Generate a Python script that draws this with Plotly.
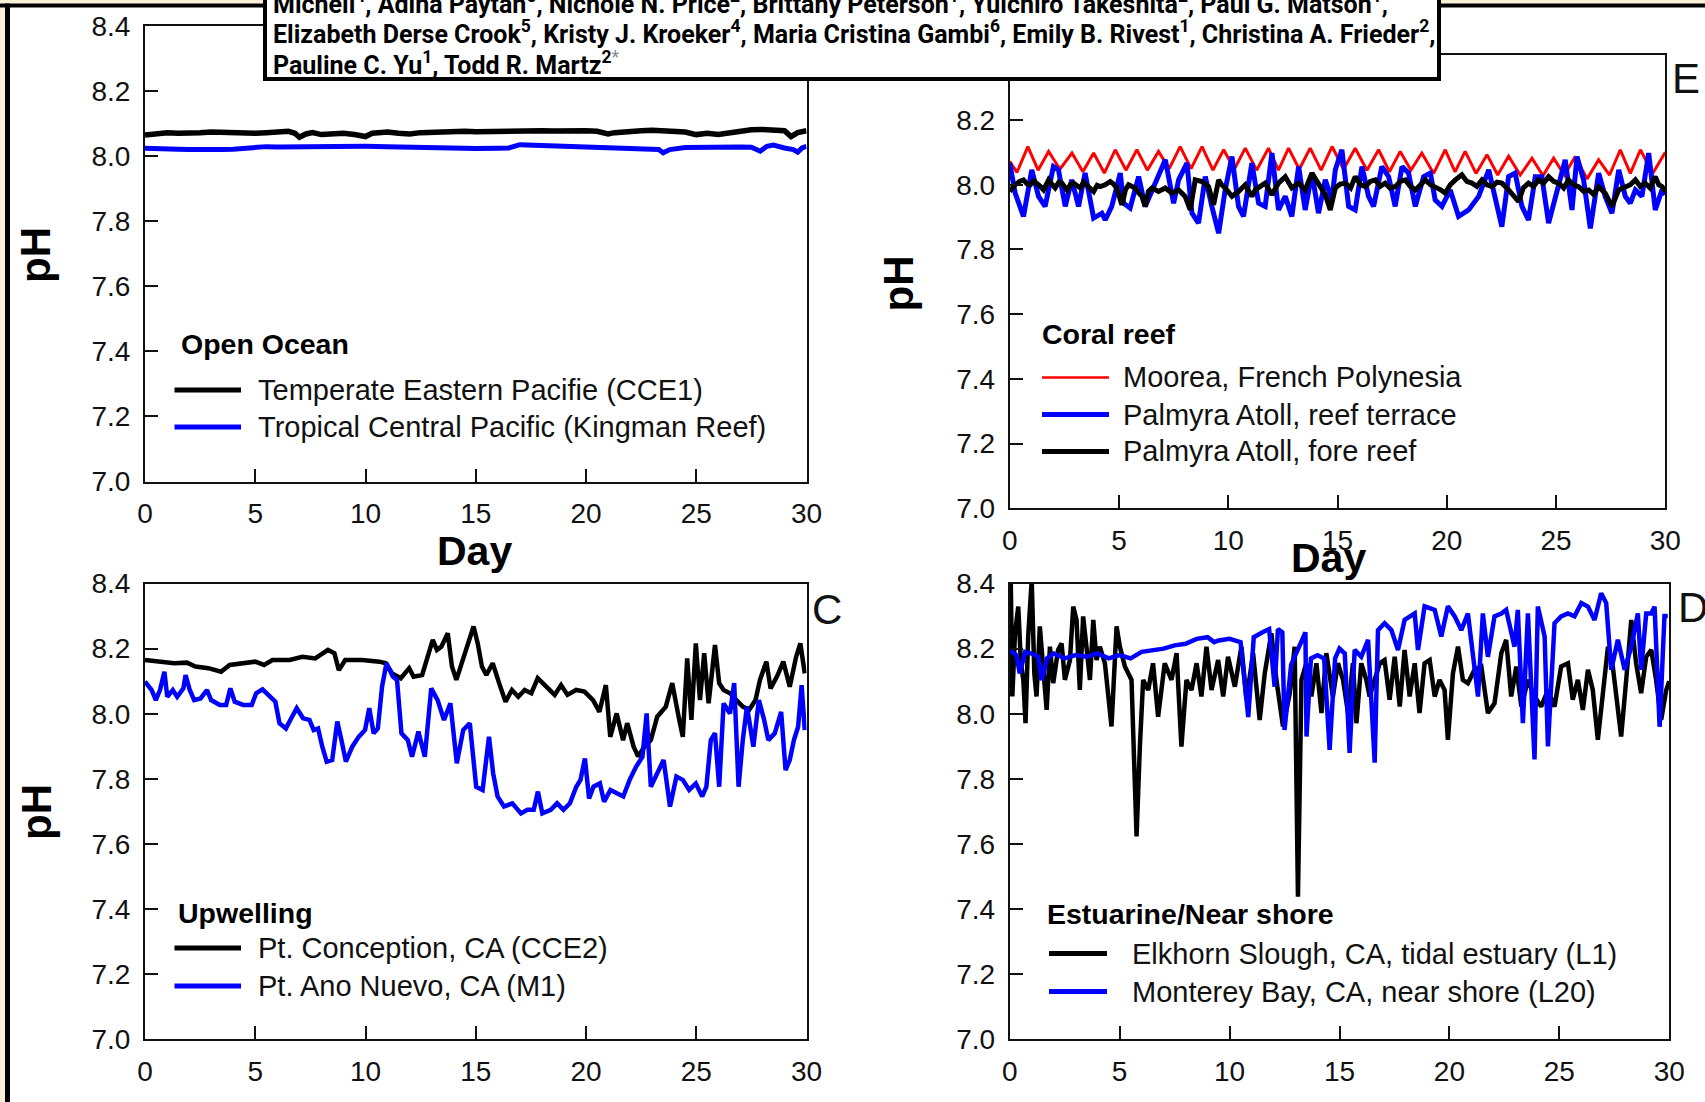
import plotly.graph_objects as go

W, H = 1705, 1102
FONT = "Liberation Sans, Arial, sans-serif"
BANNER_FONT = "Roboto, Liberation Sans, sans-serif"


def fx(p):
    return p / W


def fy(p):
    return 1 - p / H


# ---------------- DATA ----------------
# Panel A: Open Ocean
a_cce1_day = [0, 0.5, 1, 1.5, 2, 2.5, 3, 3.5, 4, 4.5, 5, 5.5, 6, 6.5, 6.8, 7.0, 7.3, 7.6, 8.0, 8.5, 9, 9.5, 10, 10.3,
              11, 11.5, 12, 12.5, 13, 13.5, 14, 14.5, 15, 15.5, 16, 16.5, 17, 17.5, 18, 18.5, 19, 19.5, 20, 20.5, 21,
              21.3, 21.7, 22, 22.5, 23, 23.5, 24, 24.5, 25, 25.5, 26, 26.5, 27, 27.5, 28, 28.5, 29, 29.3, 29.6, 30]
a_cce1_ph = [8.065, 8.070, 8.072, 8.070, 8.073, 8.072, 8.074, 8.073, 8.070, 8.068, 8.070, 8.072, 8.074, 8.076, 8.070,
             8.058, 8.068, 8.072, 8.066, 8.068, 8.070, 8.066, 8.060, 8.070, 8.074, 8.070, 8.068, 8.072, 8.074, 8.075,
             8.074, 8.076, 8.075, 8.076, 8.077, 8.078, 8.077, 8.076, 8.078, 8.077, 8.078, 8.077, 8.078, 8.076, 8.068,
             8.072, 8.075, 8.077, 8.078, 8.079, 8.078, 8.079, 8.074, 8.066, 8.070, 8.066, 8.072, 8.078, 8.081, 8.082,
             8.082, 8.078, 8.060, 8.072, 8.078]
a_king_day = [0, 0.5, 1, 1.5, 2, 2.5, 3, 3.5, 4, 4.5, 5, 5.5, 6, 7, 8, 9, 10, 11, 12, 13, 14, 15, 16, 16.5, 17, 17.5,
              18, 19, 20, 21, 22, 23, 23.3, 23.5, 23.8, 24.5, 25, 26, 27, 27.5, 27.9, 28.2, 28.5, 29, 29.4, 29.6, 29.8,
              30]
a_king_ph = [8.024, 8.022, 8.020, 8.021, 8.020, 8.019, 8.020, 8.020, 8.021, 8.024, 8.027, 8.029, 8.028, 8.029, 8.030,
             8.031, 8.030, 8.029, 8.027, 8.024, 8.022, 8.023, 8.024, 8.025, 8.035, 8.034, 8.030, 8.031, 8.029, 8.026,
             8.024, 8.023, 8.020, 8.010, 8.020, 8.026, 8.027, 8.029, 8.028, 8.027, 8.015, 8.030, 8.034, 8.025, 8.020,
             8.012, 8.025, 8.030]

# Panel E: Coral reef
e_moorea_day = [0, 0.33, 0.83, 1.30, 1.78, 2.30, 2.85, 3.35, 3.84, 4.33, 4.83, 5.32, 5.82, 6.30, 6.81, 7.30, 7.80,
                8.30, 8.80, 9.30, 9.79, 10.28, 10.78, 11.30, 11.84, 12.30, 12.76, 13.25, 13.75, 14.25, 14.75, 15.28,
                15.81, 16.35, 16.88, 17.38, 17.87, 18.36, 18.86, 19.40, 19.93, 20.38, 20.84, 21.34, 21.84, 22.33,
                22.83, 23.36, 23.90, 24.40, 24.89, 25.38, 25.88, 26.42, 26.95, 27.45, 27.94, 28.40, 28.86, 29.42, 30.0]
e_moorea_ph = [8.072, 8.038, 8.118, 8.045, 8.103, 8.048, 8.098, 8.040, 8.098, 8.036, 8.108, 8.045, 8.108, 8.045,
               8.103, 8.050, 8.118, 8.050, 8.118, 8.045, 8.108, 8.048, 8.113, 8.045, 8.113, 8.045, 8.113, 8.048,
               8.113, 8.045, 8.118, 8.048, 8.113, 8.045, 8.108, 8.040, 8.103, 8.045, 8.098, 8.035, 8.108, 8.040,
               8.103, 8.035, 8.093, 8.030, 8.088, 8.030, 8.082, 8.028, 8.082, 8.030, 8.087, 8.018, 8.077, 8.030,
               8.108, 8.035, 8.108, 8.035, 8.100]
e_terrace_day = [0.0, 0.25, 0.63, 1.01, 1.32, 1.62, 2.0, 2.23, 2.54, 2.84, 3.15, 3.45, 3.84, 4.22, 4.37, 4.67, 5.06,
                 5.21, 5.51, 5.9, 6.2, 6.51, 7.12, 7.5, 7.73, 8.11, 8.34, 8.64, 8.95, 9.25, 9.56, 9.86, 10.17, 10.47,
                 10.7, 11.08, 11.39, 11.69, 12.0, 12.3, 12.61, 12.91, 13.22, 13.52, 13.83, 14.13, 14.44, 14.74, 14.9,
                 15.2, 15.51, 15.81, 16.12, 16.42, 16.65, 17.03, 17.34, 17.64, 17.95, 18.25, 18.56, 18.94, 19.25,
                 19.47, 19.78, 20.16, 20.54, 21.0, 21.46, 21.92, 22.22, 22.52, 22.83, 23.13, 23.44, 23.74, 24.05,
                 24.35, 24.66, 24.97, 25.42, 25.73, 25.96, 26.26, 26.57, 26.95, 27.25, 27.56, 27.87, 28.17, 28.4,
                 28.63, 28.93, 29.24, 29.54, 29.85, 30.0]
e_terrace_ph = [8.067, 7.974, 7.902, 8.046, 7.964, 7.933, 8.056, 8.046, 7.933, 8.015, 7.933, 8.036, 7.897, 7.912,
                7.891, 7.933, 8.036, 7.943, 7.928, 8.025, 7.933, 7.984, 8.077, 7.943, 8.015, 8.067, 7.912, 7.881,
                8.025, 7.933, 7.850, 7.984, 8.087, 7.933, 7.902, 8.067, 7.943, 7.933, 8.098, 7.922, 7.964, 7.902,
                8.056, 7.922, 8.036, 7.912, 8.015, 7.953, 8.046, 8.108, 7.933, 7.922, 8.056, 7.964, 7.933, 8.056,
                8.025, 7.933, 8.056, 8.036, 7.933, 8.025, 8.036, 7.953, 7.933, 7.984, 7.902, 7.922, 7.964, 8.046,
                7.964, 7.870, 8.025, 8.036, 7.933, 7.891, 8.025, 8.025, 7.881, 7.964, 8.077, 7.922, 8.087, 8.015,
                7.865, 8.036, 7.964, 7.912, 8.046, 7.964, 7.943, 7.984, 7.964, 8.098, 7.922, 7.984, 7.970]
e_fore_day = [0.0, 0.12, 0.25, 0.45, 0.63, 0.8, 0.94, 1.1, 1.24, 1.4, 1.55, 1.78, 1.95, 2.08, 2.25, 2.39, 2.62, 2.78,
              2.92, 3.08, 3.23, 3.38, 3.53, 3.7, 3.84, 4.0, 4.14, 4.37, 4.6, 4.75, 4.9, 5.13, 5.3, 5.44, 5.74, 5.9,
              6.05, 6.2, 6.35, 6.51, 6.81, 7.12, 7.42, 7.73, 8.03, 8.26, 8.49, 8.8, 9.1, 9.33, 9.56, 9.7, 9.86,
              10.17, 10.47, 10.78, 11.08, 11.25, 11.39, 11.69, 12.0, 12.3, 12.61, 12.91, 13.22, 13.52, 13.83, 14.13,
              14.44, 14.67, 14.9, 15.12, 15.36, 15.6, 15.81, 16.05, 16.27, 16.5, 16.73, 16.95, 17.18, 17.4, 17.64,
              17.87, 18.1, 18.33, 18.56, 18.8, 19.02, 19.25, 19.47, 19.7, 19.93, 20.16, 20.39, 20.69, 20.92, 21.15,
              21.38, 21.61, 21.84, 22.07, 22.3, 22.52, 22.75, 22.98, 23.29, 23.5, 23.74, 23.97, 24.2, 24.43, 24.66,
              24.9, 25.12, 25.35, 25.57, 25.8, 26.03, 26.26, 26.49, 26.72, 26.95, 27.25, 27.56, 27.87, 28.17, 28.4,
              28.63, 28.85, 29.08, 29.3, 29.54, 29.7, 29.85, 30.0]
e_fore_ph = [7.979, 7.992, 8.000, 8.010, 8.015, 8.002, 8.000, 8.012, 8.005, 7.995, 7.984, 8.015, 8.000, 7.990, 8.008,
             8.005, 7.984, 8.000, 8.005, 7.995, 7.990, 8.008, 8.000, 7.990, 7.979, 7.998, 7.994, 8.000, 8.010, 8.002,
             7.990, 7.938, 7.985, 8.000, 7.990, 7.975, 7.964, 7.933, 7.980, 7.990, 7.979, 7.990, 7.974, 7.984, 7.964,
             7.922, 8.015, 8.010, 7.994, 7.938, 8.015, 8.000, 7.990, 7.964, 7.979, 8.000, 7.964, 7.985, 7.990, 8.005,
             7.969, 8.005, 8.025, 7.990, 8.005, 7.984, 8.036, 8.000, 7.969, 7.922, 7.990, 8.002, 8.005, 7.990, 8.025,
             8.000, 7.994, 8.010, 8.015, 7.995, 8.005, 7.990, 7.994, 8.010, 8.015, 7.995, 7.984, 8.000, 8.015, 8.000,
             7.994, 7.985, 7.974, 8.000, 8.015, 8.031, 8.010, 8.005, 7.995, 8.015, 8.000, 7.994, 8.008, 8.005, 7.990,
             7.974, 7.948, 7.990, 8.005, 7.995, 8.015, 8.005, 8.025, 8.010, 8.005, 7.990, 8.015, 8.000, 7.994, 7.980,
             7.984, 7.970, 7.994, 7.974, 7.933, 7.984, 7.994, 8.000, 8.015, 7.995, 8.005, 7.990, 8.025, 8.000, 7.994,
             7.979]

# Panel C: Upwelling
c_cce2_day = [0.0, 0.55, 1.32, 1.9, 2.29, 2.87, 3.45, 3.84, 4.42, 5.0, 5.4, 5.78, 6.56, 7.14, 7.72, 8.3, 8.59, 8.79,
              9.08, 9.85, 10.63, 10.92, 11.21, 11.6, 11.98, 12.18, 12.57, 12.76, 13.05, 13.24, 13.44, 13.73, 13.92,
              14.12, 14.41, 14.7, 14.9, 15.09, 15.28, 15.48, 15.77, 16.06, 16.35, 16.64, 16.93, 17.22, 17.52, 17.81,
              18.19, 18.58, 18.87, 19.16, 19.55, 19.93, 20.32, 20.61, 20.9, 21.1, 21.39, 21.68, 21.87, 22.16, 22.36,
              22.65, 22.94, 23.23, 23.62, 23.91, 24.2, 24.39, 24.59, 24.78, 24.98, 25.17, 25.36, 25.56, 25.85, 26.04,
              26.24, 26.53, 26.82, 27.11, 27.4, 27.69, 27.89, 28.18, 28.37, 28.66, 28.95, 29.24, 29.53, 29.72, 29.92]
c_cce2_ph = [8.165, 8.160, 8.155, 8.157, 8.145, 8.140, 8.129, 8.150, 8.155, 8.160, 8.150, 8.165, 8.165, 8.175, 8.170,
             8.196, 8.186, 8.134, 8.165, 8.165, 8.160, 8.155, 8.124, 8.109, 8.140, 8.114, 8.119, 8.165, 8.227, 8.196,
             8.206, 8.247, 8.145, 8.104, 8.165, 8.237, 8.268, 8.216, 8.145, 8.119, 8.155, 8.094, 8.037, 8.073, 8.052,
             8.073, 8.063, 8.109, 8.083, 8.058, 8.088, 8.058, 8.073, 8.068, 8.042, 8.006, 8.088, 7.929, 8.001, 7.919,
             7.971, 7.899, 7.869, 7.899, 7.919, 7.991, 8.022, 8.094, 7.991, 7.929, 8.170, 7.981, 8.216, 8.042, 8.186,
             8.032, 8.211, 8.094, 8.073, 8.063, 8.042, 8.022, 8.012, 8.042, 8.104, 8.160, 8.078, 8.114, 8.160, 8.083,
             8.175, 8.216, 8.124]
c_m1_day = [0.0, 0.3, 0.49, 0.68, 0.88, 1.01, 1.26, 1.46, 1.74, 1.84, 2.03, 2.23, 2.52, 2.81, 3.0, 3.39, 3.68, 3.87,
            4.07, 4.45, 4.84, 5.04, 5.33, 5.62, 5.91, 6.1, 6.39, 6.59, 6.88, 7.17, 7.46, 7.65, 7.85, 8.04, 8.24, 8.49,
            8.72, 8.91, 9.11, 9.4, 9.69, 9.98, 10.17, 10.37, 10.56, 10.75, 10.95, 11.24, 11.43, 11.63, 11.92, 12.11,
            12.4, 12.69, 12.98, 13.27, 13.56, 13.85, 14.14, 14.43, 14.73, 15.02, 15.31, 15.6, 15.79, 15.99, 16.28,
            16.66, 17.05, 17.34, 17.63, 17.82, 18.02, 18.4, 18.69, 18.98, 19.27, 19.56, 19.75, 19.95, 20.14, 20.34,
            20.63, 20.82, 21.11, 21.4, 21.69, 21.98, 22.27, 22.56, 22.75, 22.94, 23.23, 23.52, 23.81, 24.1, 24.39,
            24.68, 24.98, 25.27, 25.46, 25.66, 25.85, 26.04, 26.24, 26.53, 26.72, 26.92, 27.11, 27.3, 27.59, 27.84,
            28.08, 28.27, 28.56, 28.85, 29.05, 29.24, 29.43, 29.62, 29.78, 29.92]
c_m1_ph = [8.099, 8.073, 8.042, 8.073, 8.129, 8.052, 8.073, 8.052, 8.078, 8.119, 8.073, 8.042, 8.047, 8.073, 8.042,
           8.027, 8.027, 8.078, 8.037, 8.027, 8.027, 8.063, 8.075, 8.058, 8.037, 7.971, 7.955, 7.981, 8.017, 7.986,
           7.981, 7.950, 7.955, 7.899, 7.853, 7.858, 7.976, 7.919, 7.853, 7.899, 7.929, 7.950, 8.017, 7.940, 7.955,
           8.083, 8.155, 8.114, 8.104, 7.940, 7.919, 7.868, 7.945, 7.868, 8.078, 8.042, 7.981, 8.032, 7.848, 7.950,
           7.971, 7.776, 7.766, 7.929, 7.817, 7.746, 7.715, 7.725, 7.694, 7.705, 7.705, 7.761, 7.694, 7.705, 7.725,
           7.705, 7.725, 7.776, 7.797, 7.863, 7.740, 7.776, 7.786, 7.730, 7.766, 7.756, 7.746, 7.797, 7.837, 7.868,
           8.001, 7.776, 7.817, 7.858, 7.715, 7.807, 7.797, 7.766, 7.786, 7.746, 7.776, 7.919, 7.940, 7.776, 8.032,
           8.001, 8.094, 7.776, 7.919, 8.022, 7.899, 8.042, 7.981, 7.919, 7.940, 8.006, 7.827, 7.858, 7.919, 7.960,
           8.088, 7.950]

# Panel D: Estuarine / Near shore
d_l1_day = [0.0, 0.05, 0.12, 0.24, 0.39, 0.51, 0.62, 0.72, 0.84, 1.0, 1.12, 1.22, 1.37, 1.52, 1.68, 1.83, 1.98, 2.2,
            2.36, 2.51, 2.74, 2.89, 3.04, 3.19, 3.34, 3.49, 3.65, 3.8, 3.95, 4.1, 4.33, 4.63, 4.86, 5.01, 5.24, 5.54,
            5.77, 5.92, 6.07, 6.3, 6.52, 6.75, 7.05, 7.36, 7.59, 7.81, 8.04, 8.27, 8.5, 8.72, 8.95, 9.18, 9.48, 9.71,
            9.93, 10.24, 10.54, 10.77, 11.07, 11.37, 11.6, 11.9, 12.13, 12.43, 12.74, 12.96, 13.11, 13.27, 13.49,
            13.72, 13.95, 14.18, 14.4, 14.7, 14.93, 15.16, 15.39, 15.61, 15.77, 15.99, 16.22, 16.37, 16.6, 16.83,
            17.05, 17.28, 17.51, 17.74, 17.96, 18.19, 18.42, 18.64, 18.87, 19.1, 19.33, 19.55, 19.78, 19.93, 20.16,
            20.39, 20.61, 20.84, 21.14, 21.45, 21.75, 22.05, 22.36, 22.58, 22.81, 23.04, 23.27, 23.57, 23.87, 24.17,
            24.48, 24.78, 25.08, 25.39, 25.61, 25.84, 26.07, 26.3, 26.52, 26.75, 26.98, 27.21, 27.43, 27.66, 27.81,
            28.04, 28.27, 28.49, 28.72, 28.95, 29.18, 29.4, 29.63, 29.86, 30.0]
d_l1_ph = [8.237, 8.400, 8.053, 8.247, 8.329, 8.155, 8.104, 7.971, 8.237, 8.410, 8.124, 8.053, 8.268, 8.155, 8.012,
           8.206, 8.094, 8.196, 8.216, 8.104, 8.165, 8.329, 8.288, 8.073, 8.299, 8.206, 8.104, 8.288, 8.165, 8.206,
           8.155, 7.961, 8.268, 8.206, 8.145, 8.104, 7.623, 7.899, 8.104, 8.073, 8.155, 7.991, 8.155, 8.104, 8.186,
           7.899, 8.104, 8.073, 8.155, 8.053, 8.206, 8.073, 8.165, 8.053, 8.175, 8.083, 8.206, 8.043, 8.186, 7.981,
           8.124, 8.247, 8.104, 7.961, 8.063, 8.206, 7.438, 8.104, 8.155, 8.053, 8.155, 8.002, 8.186, 8.053, 8.155,
           8.104, 8.002, 8.155, 7.971, 8.155, 8.104, 8.053, 8.104, 8.155, 8.165, 8.043, 8.175, 8.022, 8.196, 8.053,
           8.155, 8.002, 8.155, 8.165, 8.053, 8.104, 8.073, 7.920, 8.124, 8.206, 8.104, 8.094, 8.135, 8.145, 8.002,
           8.032, 8.186, 8.227, 8.053, 8.145, 8.022, 8.104, 8.053, 8.022, 8.073, 8.022, 8.145, 8.155, 8.043, 8.104,
           8.012, 8.135, 8.073, 7.920, 8.063, 8.206, 8.145, 8.002, 7.930, 8.104, 8.288, 8.155, 8.063, 8.175, 8.196,
           8.104, 7.981, 8.073, 8.100]
d_l20_day = [0.0, 0.3, 0.46, 0.7, 1.0, 1.3, 1.45, 1.7, 2.0, 2.5, 3.0, 3.5, 4.0, 4.5, 5.0, 5.5, 6.0, 6.5, 7.0, 7.5,
             8.0, 8.5, 9.0, 9.3, 9.5, 10.0, 10.5, 10.85, 11.1, 11.5, 11.8, 12.05, 12.2, 12.4, 12.5, 12.8, 13.0, 13.3,
             13.45, 13.5, 13.7, 14.0, 14.3, 14.55, 14.8, 15.0, 15.24, 15.46, 15.69, 15.99, 16.3, 16.6, 16.75, 17.05,
             17.36, 17.66, 17.96, 18.42, 18.57, 18.87, 19.33, 19.63, 19.93, 20.24, 20.54, 20.84, 21.3, 21.52, 21.75,
             22.05, 22.36, 22.58, 22.96, 23.11, 23.34, 23.57, 23.87, 24.02, 24.33, 24.48, 24.78, 25.08, 25.39, 25.69,
             26.0, 26.3, 26.6, 26.9, 27.13, 27.36, 27.66, 27.97, 28.27, 28.57, 28.72, 28.95, 29.18, 29.33, 29.56,
             29.78, 29.93]
d_l20_ph = [8.196, 8.180, 8.124, 8.190, 8.185, 8.175, 8.103, 8.170, 8.185, 8.170, 8.180, 8.175, 8.185, 8.170, 8.180,
            8.170, 8.190, 8.195, 8.200, 8.210, 8.215, 8.230, 8.235, 8.220, 8.225, 8.230, 8.220, 7.990, 8.235, 8.250,
            8.260, 8.083, 8.260, 8.250, 7.950, 8.150, 8.180, 8.220, 8.250, 7.930, 8.170, 8.180, 8.170, 7.889, 8.170,
            8.200, 8.185, 7.880, 8.196, 8.175, 8.227, 7.850, 8.257, 8.278, 8.257, 8.196, 8.288, 8.308, 8.196, 8.330,
            8.319, 8.237, 8.330, 8.299, 8.257, 8.308, 8.053, 8.308, 8.175, 8.299, 8.308, 8.319, 8.206, 8.319, 7.971,
            8.308, 7.860, 8.329, 8.237, 7.900, 8.278, 8.299, 8.308, 8.299, 8.340, 8.329, 8.288, 8.370, 8.340, 8.135,
            8.227, 8.135, 8.206, 8.308, 8.135, 8.308, 8.308, 8.329, 7.960, 8.300, 8.300]

x_ticks = [0, 5, 10, 15, 20, 25, 30]
y_ticks = [7.0, 7.2, 7.4, 7.6, 7.8, 8.0, 8.2, 8.4]
y_tick_text = ["7.0", "7.2", "7.4", "7.6", "7.8", "8.0", "8.2", "8.4"]

BLUE = "#0000FF"
RED = "#FF0000"
BLACK = "#000000"

# ---------------- FIGURE ----------------
fig = go.Figure()


def add_line(x, y, xa, ya, color, width):
    fig.add_trace(go.Scatter(x=x, y=y, xaxis=xa, yaxis=ya, mode="lines",
                             line=dict(color=color, width=width),
                             showlegend=False, hoverinfo="skip"))


add_line(a_cce1_day, a_cce1_ph, "x", "y", BLACK, 5.5)
add_line(a_king_day, a_king_ph, "x", "y", BLUE, 5)
add_line(e_moorea_day, e_moorea_ph, "x2", "y2", RED, 3)
add_line(e_terrace_day, e_terrace_ph, "x2", "y2", BLUE, 5)
add_line(e_fore_day, e_fore_ph, "x2", "y2", BLACK, 5)
add_line(c_cce2_day, c_cce2_ph, "x3", "y3", BLACK, 4.5)
add_line(c_m1_day, c_m1_ph, "x3", "y3", BLUE, 4.5)
add_line(d_l1_day, d_l1_ph, "x4", "y4", BLACK, 4.5)
add_line(d_l20_day, d_l20_ph, "x4", "y4", BLUE, 4.5)

axis_common = dict(showgrid=False, zeroline=False, showline=True, linecolor="#111", linewidth=2,
                   mirror=True, ticks="inside", ticklen=13, tickwidth=2, tickcolor="#111", automargin=False,
                   tickfont=dict(family=FONT, size=28, color="#111"))


def xax(domain, anchor):
    d = dict(axis_common)
    d.update(domain=domain, anchor=anchor, range=[0, 30], tickmode="array", tickvals=x_ticks,
             ticklabelstandoff=6)
    return d


def yax(domain, anchor):
    d = dict(axis_common)
    d.update(domain=domain, anchor=anchor, range=[7.0, 8.4], tickmode="array", tickvals=y_ticks,
             ticktext=y_tick_text, ticklabelstandoff=7)
    return d


LEFT_X = [fx(145), fx(806.5)]
RIGHT_X_TOP = [fx(1009.7), fx(1665.3)]
RIGHT_X_BOT = [fx(1009.7), fx(1669.3)]

fig.update_layout(
    template="none",
    width=W, height=H, margin=dict(l=0, r=0, t=0, b=0, pad=0, autoexpand=False),
    paper_bgcolor="white", plot_bgcolor="white", showlegend=False,
    xaxis=xax(LEFT_X, "y"), yaxis=yax([fy(481.5), fy(25.9)], "x"),
    xaxis2=xax(RIGHT_X_TOP, "y2"), yaxis2=yax([fy(508.3), fy(55.3)], "x2"),
    xaxis3=xax(LEFT_X, "y3"), yaxis3=yax([fy(1039.4), fy(583.5)], "x3"),
    xaxis4=xax(RIGHT_X_BOT, "y4"), yaxis4=yax([fy(1039.4), fy(583.5)], "x4"),
)

# ---------------- SHAPES (frame, banner, legend keys) ----------------
CREAM = "#FBF0D8"
shapes = []


def rect(x0, y0, x1, y1, fill, line_w=0, line_c=None):
    shapes.append(dict(type="rect", xref="paper", yref="paper", x0=fx(x0), x1=fx(x1), y0=fy(y1), y1=fy(y0),
                       fillcolor=fill, line=dict(width=line_w, color=line_c or fill), layer="above"))


def hline(x0, x1, y, color, width):
    shapes.append(dict(type="line", xref="paper", yref="paper", x0=fx(x0), x1=fx(x1), y0=fy(y), y1=fy(y),
                       line=dict(color=color, width=width), layer="above"))


rect(0, 0, W, 3.5, CREAM)
rect(0, 0, 5, H, CREAM)
rect(0, 3.5, W, 7.5, "#000000")
rect(5, 3.5, 10, H, "#000000")
rect(265, -20, 1439, 79, "white", 4, "#000000")

# legend keys
hline(174.5, 241, 390, BLACK, 5)
hline(174.5, 241, 427, BLUE, 5)
hline(1042, 1109, 377.5, RED, 2.5)
hline(1042, 1109, 414.5, BLUE, 5)
hline(1042, 1109, 451.5, BLACK, 5)
hline(174.5, 241, 948, BLACK, 5)
hline(174.5, 241, 986, BLUE, 5)
hline(1049, 1107, 953.5, BLACK, 5)
hline(1049, 1107, 991.5, BLUE, 5)

fig.update_layout(shapes=shapes)

# ---------------- ANNOTATIONS ----------------
anns = []


def ann(text, x, y, size, family=FONT, color="#000", xanchor="left", angle=0):
    anns.append(dict(text=text, x=fx(x), y=fy(y), xref="paper", yref="paper", showarrow=False,
                     xanchor=xanchor, yanchor="middle", textangle=angle,
                     font=dict(family=family, size=size, color=color)))


star = "<span style='color:#8a8a8a'><sup>*</sup></span>"
ann("<b>Micheli<sup>4</sup>, Adina Paytan<sup>5</sup>, Nichole N. Price<sup>2</sup>, Brittany Peterson<sup>1</sup>, "
    "Yuichiro Takeshita<sup>2</sup>, Paul G. Matson<sup>1</sup>,</b>", 271, 3, 25, BANNER_FONT)
ann("<b>Elizabeth Derse Crook<sup>5</sup>, Kristy J. Kroeker<sup>4</sup>, Maria Cristina Gambi<sup>6</sup>, "
    "Emily B. Rivest<sup>1</sup>, Christina A. Frieder<sup>2</sup>,</b>", 271, 33, 25, BANNER_FONT)
ann("<b>Pauline C. Yu<sup>1</sup>, Todd R. Martz<sup>2</sup></b>" + star, 271, 64, 25, BANNER_FONT)

# legends
ann("<b>Open Ocean</b>", 179, 344, 28.5)
ann("Temperate Eastern Pacifie (CCE1)", 256, 390, 29, color="#111")
ann("Tropical Central Pacific (Kingman Reef)", 256, 427, 29, color="#111")
ann("<b>Coral reef</b>", 1039.5, 334, 28.5)
ann("Moorea, French Polynesia", 1121, 377.5, 29, color="#111")
ann("Palmyra Atoll, reef terrace", 1121, 414.5, 29, color="#111")
ann("Palmyra Atoll, fore reef", 1121, 451.5, 29, color="#111")
ann("<b>Upwelling</b>", 175.5, 913, 28.5)
ann("Pt. Conception, CA (CCE2)", 256, 948, 29, color="#111")
ann("Pt. Ano Nuevo, CA (M1)", 256, 986, 29, color="#111")
ann("<b>Estuarine/Near shore</b>", 1045, 913.5, 28.5)
ann("Elkhorn Slough, CA, tidal estuary (L1)", 1129.5, 953.5, 29, color="#111")
ann("Monterey Bay, CA, near shore (L20)", 1129.5, 991.5, 29, color="#111")

# axis titles
ann("<b>pH</b>", 36, 255, 42, xanchor="center", angle=-90)
ann("<b>pH</b>", 898, 283.5, 42, xanchor="center", angle=-90)
ann("<b>pH</b>", 36, 812, 42, xanchor="center", angle=-90)
ann("<b>Day</b>", 474, 551, 41, xanchor="center")
ann("<b>Day</b>", 1328, 558, 41, xanchor="center")

# panel letters
ann("E", 1686, 79, 42, xanchor="center", color="#111")
ann("C", 827, 609, 42, xanchor="center", color="#111")
ann("D", 1693, 607, 42, xanchor="center", color="#111")

fig.update_layout(annotations=anns)

fig.write_html("out.html", config={"displayModeBar": False},
               post_script="document.body.style.margin='0';document.body.style.overflow='hidden';")
